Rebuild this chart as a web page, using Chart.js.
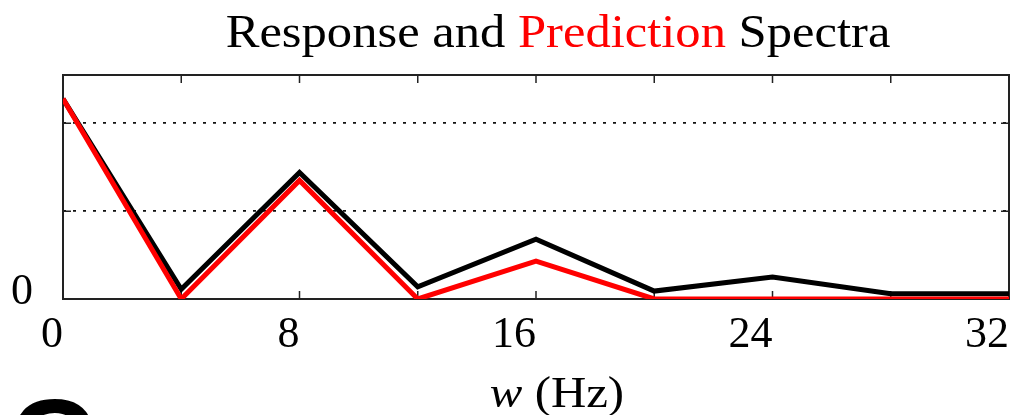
<!DOCTYPE html>
<html>
<head>
<meta charset="utf-8">
<script src="https://cdn.jsdelivr.net/npm/chart.js@4/dist/chart.umd.min.js"></script>
<style>
  html, body { margin: 0; padding: 0; background: #fff; }
  #wrap { width: 1011px; height: 415px; position: relative; }
</style>
</head>
<body>
<div id="wrap"><canvas id="spectra"></canvas></div>
<script>
// ---- data ----
const freqs = [0, 4, 8, 12, 16, 20, 24, 28, 32];
const response = [2.28, 0.11, 1.44, 0.14, 0.68, 0.09, 0.25, 0.06, 0.06];
const prediction = [2.28, 0, 1.35, 0, 0.43, 0, 0, 0, 0];
const xTickLabels = [0, 8, 16, 24, 32];
const yGridValues = [1, 2];

const SERIF = '"Liberation Serif", "Times New Roman", serif';

// draw text stretched a little horizontally (reference type is wide)
function wideText(ctx, parts, cx, y, font, stretch) {
  ctx.font = font;
  const total = parts.reduce((s, p) => { ctx.font = p.font || font; return s + ctx.measureText(p.text).width; }, 0);
  ctx.save();
  ctx.translate(cx, y);
  ctx.scale(stretch, 1);
  let x = -total / 2;
  parts.forEach(p => {
    ctx.font = p.font || font;
    ctx.fillStyle = p.color || '#000';
    ctx.fillText(p.text, x, 0);
    x += ctx.measureText(p.text).width;
  });
  ctx.restore();
}

// frame and inward tick marks go under the lines
const framePlugin = {
  id: 'framePlugin',
  beforeDatasetsDraw(chart) {
    const ctx = chart.ctx;
    const area = chart.chartArea;
    const xs = chart.scales.x;
    const ys = chart.scales.y;
    ctx.save();
    ctx.strokeStyle = '#222';
    ctx.lineWidth = 2;
    ctx.strokeRect(area.left, area.top, area.right - area.left, area.bottom - area.top);

    ctx.lineWidth = 1.5;
    ctx.beginPath();
    for (let v = 4; v < 32; v += 4) {
      const px = xs.getPixelForValue(v);
      ctx.moveTo(px, area.bottom); ctx.lineTo(px, area.bottom - 8);
      ctx.moveTo(px, area.top); ctx.lineTo(px, area.top + 8);
    }
    yGridValues.forEach(v => {
      const py = ys.getPixelForValue(v);
      ctx.moveTo(area.left, py); ctx.lineTo(area.left + 8, py);
      ctx.moveTo(area.right, py); ctx.lineTo(area.right - 8, py);
    });
    ctx.stroke();
    ctx.restore();
  }
};

// titles and the cut-off panel letter
const textPlugin = {
  id: 'textPlugin',
  afterDraw(chart) {
    const ctx = chart.ctx;
    ctx.save();
    ctx.textBaseline = 'alphabetic';
    wideText(ctx, [
      { text: 'Response and ' },
      { text: 'Prediction', color: '#f00' },
      { text: ' Spectra' }
    ], 558, 47, '46px ' + SERIF, 1.1);

    wideText(ctx, [
      { text: 'w', font: 'italic 44px ' + SERIF },
      { text: ' (Hz)' }
    ], 557, 407, '44px ' + SERIF, 1.11);

    ctx.fillStyle = '#000';
    ctx.font = 'bold 122px "Liberation Sans", Arial, sans-serif';
    ctx.fillText('C', 8, 485);
    ctx.restore();
  }
};

new Chart(document.getElementById('spectra'), {
  type: 'line',
  data: {
    labels: freqs,
    datasets: [
      {
        label: 'Prediction',
        data: prediction.map((v, i) => ({ x: freqs[i], y: v })),
        borderColor: '#ff0000',
        borderWidth: 5,
        pointRadius: 0,
        fill: false,
        tension: 0,
        order: 0
      },
      {
        label: 'Response',
        data: response.map((v, i) => ({ x: freqs[i], y: v })),
        borderColor: '#000000',
        borderWidth: 5,
        pointRadius: 0,
        fill: false,
        tension: 0,
        order: 1
      }
    ]
  },
  options: {
    responsive: true,
    maintainAspectRatio: false,
    animation: false,
    layout: { padding: { top: 75, right: 2, left: 0, bottom: 0 } },
    plugins: {
      legend: { display: false },
      title: { display: false },
      tooltip: { enabled: false }
    },
    scales: {
      x: {
        type: 'linear',
        min: 0,
        max: 32,
        afterFit(scale) {
          scale.height = 116;
          scale.paddingLeft = 0;
          scale.paddingRight = 0;
        },
        grid: { display: false, drawTicks: false },
        border: { display: false },
        ticks: {
          stepSize: 4,
          align: 'end',
          padding: 10,
          color: '#000',
          font: { family: SERIF, size: 44 },
          maxRotation: 0,
          autoSkip: false,
          callback: v => xTickLabels.includes(v) ? String(v) : ''
        }
      },
      y: {
        min: 0,
        max: 2.55,
        afterFit(scale) {
          scale.width = 63;
          scale.paddingTop = 0;
          scale.paddingBottom = 0;
        },
        grid: {
          drawTicks: false,
          lineWidth: 1.8,
          color: c => yGridValues.includes(c.tick.value) ? '#111' : 'rgba(0,0,0,0)'
        },
        border: { display: false, dash: [3, 7] },
        ticks: {
          stepSize: 1,
          padding: 30,
          labelOffset: -7,
          color: '#000',
          font: { family: SERIF, size: 44 },
          callback: v => v === 0 ? '0' : ''
        }
      }
    }
  },
  plugins: [framePlugin, textPlugin]
});
</script>
</body>
</html>
